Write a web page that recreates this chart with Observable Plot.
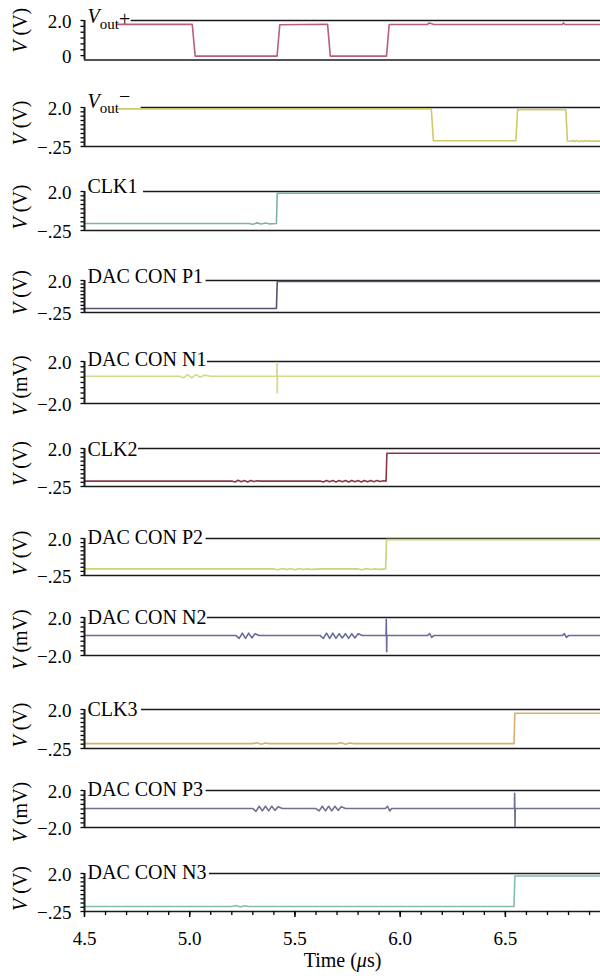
<!DOCTYPE html>
<html>
<head>
<meta charset="utf-8">
<script src="https://cdn.jsdelivr.net/npm/d3@7"></script>
<script src="https://cdn.jsdelivr.net/npm/@observablehq/plot@0.6"></script>
<style>
  body { margin: 0; background: #fff; }
  #chart { position: relative; width: 600px; height: 980px; font-family: "Liberation Serif", "Times New Roman", serif; }
  #chart svg { position: absolute; left: 0; overflow: visible; }
</style>
</head>
<body>
<div id="chart"></div>
<script>
// ---- data -------------------------------------------------------------
const timeDomain = [4.5, 6.952];                       // µs
const timeMajorTicks = [4.5, 5.0, 5.5, 6.0, 6.5];
const timeMinorTicks = [4.5, 4.6, 4.7, 4.8, 4.9, 5.0, 5.1, 5.2, 5.3, 5.4, 5.5, 5.6,
                        5.7, 5.8, 5.9, 6.0, 6.1, 6.2, 6.3, 6.4, 6.5, 6.6, 6.7, 6.8, 6.9];

const signalNames = ["Vout+", "Vout−", "CLK1", "DAC CON P1", "DAC CON N1", "CLK2",
                     "DAC CON P2", "DAC CON N2", "CLK3", "DAC CON P3", "DAC CON N3"];
const signalUnits = ["V", "V", "V", "V", "mV", "V", "V", "mV", "V", "mV", "V"];

const voltDomain = [-0.25, 2.0];
const milliVoltDomain = [-2.0, 2.0];
const voutTicks = [0, 0.333, 0.667, 1.0, 1.333, 1.667, 2.0];
const voltTicks = [-0.25, 0, 0.25, 0.5, 0.75, 1.0, 1.25, 1.5, 1.75, 2.0];
const milliVoltTicks = [-2.0, -1.5, -1.0, -0.5, 0, 0.5, 1.0, 1.5, 2.0];

// waveforms as [time (µs), value]
const voutPlus = [[4.655, 1.78], [5.012, 1.78], [5.026, -0.03], [5.415, -0.03], [5.428, 1.76],
  [5.655, 1.79], [5.668, -0.03], [5.935, -0.03], [5.948, 1.77], [6.13, 1.77], [6.136, 1.86],
  [6.15, 1.81], [6.16, 1.77], [6.77, 1.77], [6.776, 1.86], [6.783, 1.77], [6.952, 1.77]];
const voutMinus = [[4.655, 1.92], [6.148, 1.92], [6.158, 0.08], [6.55, 0.08], [6.558, 1.87],
  [6.787, 1.87], [6.795, 0.07], [6.81, 0.05], [6.82, 0.1], [6.83, 0.04], [6.84, 0.09], [6.85, 0.03],
  [6.86, 0.08], [6.87, 0.04], [6.88, 0.09], [6.89, 0.05], [6.9, 0.08], [6.91, 0.04], [6.92, 0.07], [6.952, 0.06]];
const clk1 = [[4.5, 0.15], [5.28, 0.15], [5.3, 0.11], [5.32, 0.19], [5.34, 0.12], [5.36, 0.18],
  [5.38, 0.13], [5.412, 0.15], [5.416, 1.9], [6.952, 1.9]];
const dacConP1 = [[4.5, 0.03], [5.412, 0.03], [5.416, 1.93], [6.952, 1.93]];
const dacConN1 = [[4.5, 0.6], [4.95, 0.6], [4.97, 0.45], [4.99, 0.75], [5.01, 0.45], [5.03, 0.75],
  [5.05, 0.5], [5.07, 0.7], [5.1, 0.6], [5.414, 0.6], [5.415, 1.9], [5.416, -1.0], [5.417, 0.6], [6.952, 0.6]];
const clk2 = [[4.5, 0.07], [5.2, 0.07], [5.215, 0.02], [5.23, 0.12], [5.245, 0.03], [5.26, 0.1],
  [5.275, 0.02], [5.29, 0.11], [5.305, 0.04], [5.32, 0.09], [5.335, 0.07], [5.62, 0.07], [5.635, 0.02],
  [5.65, 0.11], [5.665, 0.03], [5.68, 0.1], [5.695, 0.02], [5.71, 0.1], [5.725, 0.03], [5.74, 0.1],
  [5.755, 0.02], [5.77, 0.11], [5.785, 0.03], [5.8, 0.1], [5.815, 0.02], [5.83, 0.11], [5.845, 0.03],
  [5.86, 0.1], [5.875, 0.03], [5.89, 0.1], [5.905, 0.04], [5.92, 0.09], [5.933, 0.07], [5.937, 1.72], [6.952, 1.72]];
const dacConP2 = [[4.5, 0.15], [5.4, 0.15], [5.42, 0.1], [5.44, 0.18], [5.46, 0.11], [5.48, 0.17],
  [5.5, 0.1], [5.52, 0.17], [5.54, 0.11], [5.56, 0.16], [5.58, 0.12], [5.62, 0.15], [5.8, 0.15],
  [5.82, 0.1], [5.84, 0.17], [5.86, 0.11], [5.88, 0.16], [5.9, 0.12], [5.931, 0.15], [5.935, 1.93], [6.952, 1.93]];
const dacConN2 = [[4.5, 0.1], [5.22, 0.1], [5.235, -0.2], [5.25, 0.35], [5.265, -0.2], [5.28, 0.35],
  [5.295, -0.15], [5.31, 0.3], [5.33, 0.1], [5.62, 0.1], [5.635, -0.2], [5.65, 0.35], [5.665, -0.2],
  [5.68, 0.35], [5.695, -0.2], [5.71, 0.3], [5.725, -0.15], [5.74, 0.3], [5.755, -0.2], [5.77, 0.3],
  [5.785, -0.15], [5.8, 0.3], [5.82, 0.1], [5.933, 0.1], [5.934, 1.8], [5.936, -1.6], [5.937, 0.1],
  [6.13, 0.1], [6.14, 0.3], [6.15, -0.1], [6.16, 0.1], [6.77, 0.1], [6.78, 0.3], [6.79, -0.1], [6.8, 0.1], [6.952, 0.1]];
const clk3 = [[4.5, 0.03], [5.3, 0.03], [5.32, 0.08], [5.34, 0.0], [5.36, 0.07], [5.38, 0.03],
  [5.7, 0.03], [5.72, 0.08], [5.74, 0.0], [5.76, 0.07], [5.78, 0.03], [6.541, 0.03], [6.545, 1.78], [6.952, 1.78]];
const dacConP3 = [[4.5, 0.05], [5.3, 0.05], [5.315, -0.25], [5.33, 0.3], [5.345, -0.2], [5.36, 0.3],
  [5.375, -0.2], [5.39, 0.3], [5.405, -0.15], [5.42, 0.25], [5.44, 0.05], [5.6, 0.05], [5.615, -0.2],
  [5.63, 0.3], [5.645, -0.2], [5.66, 0.3], [5.675, -0.2], [5.69, 0.3], [5.705, -0.15], [5.72, 0.25],
  [5.74, 0.05], [5.93, 0.05], [5.94, 0.3], [5.95, -0.2], [5.96, 0.05], [6.543, 0.05], [6.544, 1.7],
  [6.546, -1.9], [6.547, 0.05], [6.952, 0.05]];
const dacConN3 = [[4.5, 0.05], [5.2, 0.05], [5.22, 0.1], [5.24, 0.02], [5.26, 0.09], [5.28, 0.05],
  [6.541, 0.05], [6.545, 1.85], [6.952, 1.85]];

const waveforms = [voutPlus, voutMinus, clk1, dacConP1, dacConN1, clk2,
                   dacConP2, dacConN2, clk3, dacConP3, dacConN3];

// ---- styling & layout -------------------------------------------------
const traceColors = ["#b85f78", "#d2c86a", "#7db4a3", "#55556f", "#d4d98a", "#8a3646",
                     "#cbd277", "#6a6a9c", "#dcac6c", "#6f6f8f", "#84bba9"];
const frameColor = "#1a1a1a";
const serif = "'Liberation Serif', 'Times New Roman', serif";
const frameTop    = [20, 107, 191, 280, 361, 448, 538, 617, 709, 790, 873];
const frameBottom = [59.5, 146, 230, 312, 403, 486, 575, 655, 748, 827, 911];
const nameDy  = [2, 0, 1, 2, 4, 7, 5, 6, 6, 5, 5];     // label baseline below frame top
const nameGap = [1, 11, 6, 3, 1, 1, 3, 1, 4, 3, 3];    // space between label and top rule
const unitDy  = [-10, -4, -4, -4, 3, -4, -4, 3, -4, 3, -4];
const nameSize = 20, subSize = 15;
const left = 84, width = 600;

const fmtTick = v => v === 2 ? "2.0" : v === 0 ? "0" : v === -0.25 ? "−.25" : "−2.0";

// styled pieces for labels that need italics or subscripts
const richLabels = {
  "Vout+": [{text: "V", italic: true}, {text: "out", size: subSize, dy: 6}, {text: "+", dy: -3}],
  "Vout−": [{text: "V", italic: true}, {text: "out", size: subSize, dy: 5}, {text: "−", dy: -10}],
  "V (V)": [{text: "V", italic: true}, {text: " (V)"}],
  "V (mV)": [{text: "V", italic: true}, {text: " (mV)"}],
  "Time (μs)": [{text: "Time ("}, {text: "μ", italic: true}, {text: "s)"}]
};

const ctx = document.createElement("canvas").getContext("2d");
function labelWidth(name) {
  const parts = richLabels[name] || [{text: name}];
  let w = 0;
  for (const p of parts) {
    ctx.font = `${p.italic ? "italic " : ""}${p.size || nameSize}px ${serif}`;
    w += ctx.measureText(p.text).width;
  }
  return w;
}

function richText(el, parts) {
  el.textContent = "";
  for (const p of parts) {
    const t = document.createElementNS("http://www.w3.org/2000/svg", "tspan");
    t.textContent = p.text;
    if (p.italic) t.setAttribute("font-style", "italic");
    if (p.size) t.setAttribute("font-size", p.size);
    if (p.dy) t.setAttribute("dy", p.dy);
    el.appendChild(t);
  }
}

const timeScale = d3.scaleLinear(timeDomain, [left, width]);
const root = document.getElementById("chart");

signalNames.forEach((name, i) => {
  const top = frameTop[i], bottom = frameBottom[i];
  const last = i === signalNames.length - 1;
  const mt = 26, mb = last ? 72 : 10;
  const unit = signalUnits[i];
  const yDomain = unit === "mV" ? milliVoltDomain : voltDomain;
  const yTicks = i === 0 ? voutTicks : unit === "mV" ? milliVoltTicks : voltTicks;
  const yLabelTicks = i === 0 ? [0, 2.0] : [yDomain[0], 2.0];
  // the top rule begins just after the signal name
  const ruleStart = timeScale.invert(left + 3 + labelWidth(name) + nameGap[i]);

  const marks = [
    Plot.ruleY([yDomain[1]], {x1: ruleStart, x2: timeDomain[1], stroke: frameColor, strokeWidth: 1.6}),
    Plot.ruleY([yDomain[0]], {stroke: frameColor, strokeWidth: 1.6}),
    Plot.line(waveforms[i], {x: d => d[0], y: d => d[1], stroke: traceColors[i], strokeWidth: 1.6}),
    Plot.text([name], {frameAnchor: "top-left", dx: 3, dy: nameDy[i], lineAnchor: "bottom",
                       textAnchor: "start", fontSize: nameSize, fill: "black"}),
    Plot.axisY({ticks: yTicks, tickSize: 3.5, tickFormat: () => "", label: null, strokeWidth: 1.3}),
    Plot.axisY({ticks: yLabelTicks, tickSize: 0, tickPadding: 13, tickFormat: fmtTick,
                label: null, fontSize: 19, dy: 1}),
    Plot.ruleX([timeDomain[0]], {stroke: frameColor, strokeWidth: 2}),
    Plot.text([`V (${unit})`], {frameAnchor: "left", rotate: -90, dx: -64, dy: unitDy[i],
                                textAnchor: "middle", fontSize: 20, fill: "black"})
  ];
  if (last) {
    marks.push(
      Plot.axisX({ticks: timeMinorTicks, tickSize: 4, tickFormat: () => "", label: null, strokeWidth: 1.3}),
      Plot.axisX({ticks: timeMajorTicks, tickSize: 6, tickPadding: 14, tickFormat: d3.format(".1f"),
                  label: null, fontSize: 19, strokeWidth: 1.5}),
      Plot.text(["Time (μs)"], {frameAnchor: "bottom", dy: 55, fontSize: 20, fill: "black"})
    );
  }

  const svg = Plot.plot({
    width,
    height: mt + (bottom - top) + mb,
    marginTop: mt, marginBottom: mb, marginLeft: left, marginRight: 0,
    x: last ? {domain: timeDomain} : {domain: timeDomain, axis: null},
    y: {domain: yDomain},
    style: {fontFamily: serif, fontSize: "19px", background: "transparent",
            overflow: "visible", color: "black"},
    marks
  });
  svg.style.top = (top - mt) + "px";
  root.appendChild(svg);

  d3.select(svg).selectAll("text").each(function() {
    const parts = richLabels[this.textContent];
    if (parts) richText(this, parts);
  });
});
</script>
</body>
</html>
